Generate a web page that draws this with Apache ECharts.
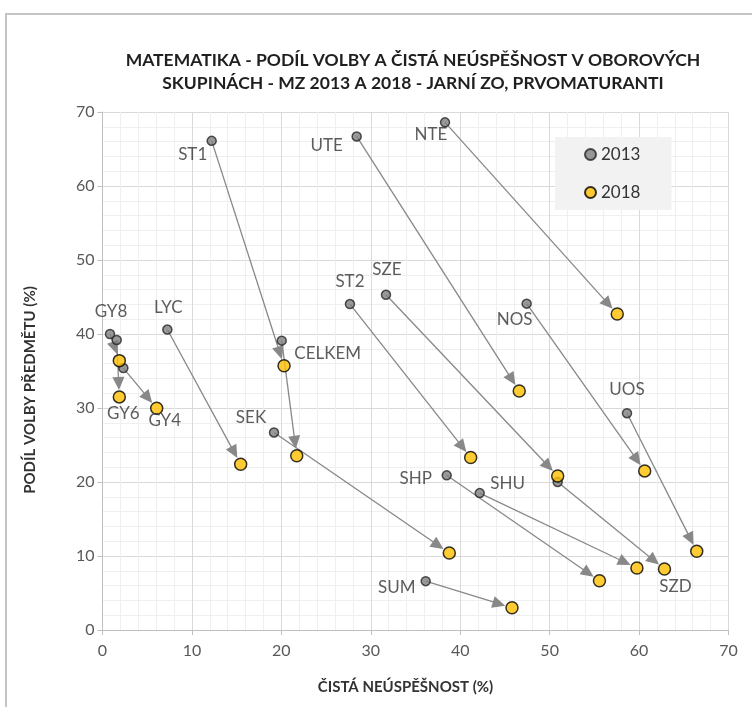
<!DOCTYPE html>
<html>
<head>
<meta charset="utf-8">
<script src="https://cdn.jsdelivr.net/npm/echarts@6/dist/echarts.min.js"></script>
<style>html,body{margin:0;padding:0;background:#fff}#c{width:752px;height:707px}</style>
</head>
<body>
<div id="c"></div>
<script>
// Group codes
const groups = ['GY8','GY6','GY4','LYC','SEK','CELKEM','ST1','UTE','NTE','ST2','SZE','SZD','NOS','UOS','SHU','SHP','SUM'];
// 2013: x = čistá neúspěšnost (%), y = podíl volby (%)
const x2013 = [0.84, 1.59, 2.33, 7.25, 19.18, 20.04, 12.21, 28.42, 38.3, 27.67, 31.7, 50.9, 47.43, 58.65, 42.18, 38.49, 36.14];
const y2013 = [40.0, 39.2, 35.4, 40.6, 26.7, 39.1, 66.1, 66.7, 68.6, 44.05, 45.3, 20.0, 44.1, 29.3, 18.5, 20.9, 6.6];
// 2018
const x2018 = [1.88, 1.88, 6.06, 15.45, 38.78, 21.72, 20.3, 46.6, 57.56, 41.17, 50.9, 62.84, 60.63, 66.45, 59.76, 55.57, 45.79];
const y2018 = [36.4, 31.5, 29.96, 22.4, 10.4, 23.55, 35.7, 32.3, 42.7, 23.3, 20.8, 8.24, 21.5, 10.65, 8.38, 6.65, 3.0];
const years = ['2013', '2018'];
const xTicks = [0, 10, 20, 30, 40, 50, 60, 70];
const yTicks = [0, 10, 20, 30, 40, 50, 60, 70];

// label placement (style config): which year's point carries the label, and offset in px
const labelSpec = {
  GY8: ['2013', [1, -22]], GY6: ['2018', [4, 17]], GY4: ['2018', [8, 12]],
  LYC: ['2013', [1, -22]], SEK: ['2013', [-23, -15]], CELKEM: ['2013', [46, 13]],
  ST1: ['2013', [-19, 14]], UTE: ['2013', [-30, 9]], NTE: ['2013', [-14, 12]],
  ST2: ['2013', [0, -23]], SZE: ['2013', [1, -25]], SZD: ['2018', [11, 17]],
  NOS: ['2013', [-12, 16]], UOS: ['2013', [0, -24]], SHU: ['2013', [28, -10]],
  SHP: ['2013', [-31, 3]], SUM: ['2013', [-29, 6]]
};

const FONT = 'Lato, "Open Sans", sans-serif';

function pointData(year, xs, ys) {
  return groups.map((g, i) => {
    const spec = labelSpec[g];
    const show = spec && spec[0] === year;
    return {
      name: g,
      value: [xs[i], ys[i]],
      label: show ? {
        show: true, formatter: g, position: 'inside', offset: spec[1],
        fontSize: 17, color: '#333333', fontFamily: FONT
      } : { show: false }
    };
  });
}

const chart = echarts.init(document.getElementById('c'), null, { renderer: 'canvas' });

const axisCommon = {
  type: 'value', min: 0, max: 70, interval: 10,
  axisLine: { show: true, lineStyle: { color: '#bfbfbf', width: 1 } },
  axisTick: { show: true, length: 5, lineStyle: { color: '#bfbfbf' } },
  splitLine: { show: true, lineStyle: { color: '#d9d9d9', width: 1 } },
  minorTick: { show: false, splitNumber: 5 },
  minorSplitLine: { show: true, lineStyle: { color: '#efefef', width: 1 } },
  nameLocation: 'middle'
};

const option = {
  backgroundColor: '#ffffff',
  animation: false,
  textStyle: { fontFamily: FONT },
  graphic: [{
    type: 'rect', shape: { x: 6, y: 14, width: 800, height: 800 },
    style: { fill: 'none', stroke: '#c4c4c4', lineWidth: 2 }, silent: true, z: -1
  }],
  title: {
    text: 'MATEMATIKA - PODÍL VOLBY A ČISTÁ NEÚSPĚŠNOST V OBOROVÝCH\nSKUPINÁCH - MZ 2013 A 2018 - JARNÍ ZO, PRVOMATURANTI',
    left: 408, top: 44, textAlign: 'center',
    textStyle: { fontSize: 17.5, fontWeight: 'bold', color: '#1f1f1f', lineHeight: 23, fontFamily: FONT }
  },
  legend: {
    data: years, orient: 'vertical', left: 555, top: 137,
    backgroundColor: '#F2F2F2', padding: [9, 31, 9, 29], itemGap: 21,
    itemWidth: 11, itemHeight: 11, icon: 'circle',
    textStyle: { fontSize: 17, color: '#333333', lineHeight: 16, fontFamily: FONT }
  },
  grid: { left: 102.5, right: 23.5, top: 112, bottom: 77 },
  xAxis: Object.assign({}, axisCommon, {
    name: 'ČISTÁ NEÚSPĚŠNOST (%)', nameGap: 50,
    nameTextStyle: { fontWeight: 'bold', fontSize: 15, color: '#333333', fontFamily: FONT, padding: [0, 20, 0, 0] },
    axisLabel: { fontSize: 16, color: '#595959', margin: 13, fontFamily: FONT,
      formatter: v => xTicks.includes(v) ? String(v) : '' }
  }),
  yAxis: Object.assign({}, axisCommon, {
    name: 'PODÍL VOLBY PŘEDMĚTU (%)', nameGap: 65,
    nameTextStyle: { fontWeight: 'bold', fontSize: 15, color: '#333333', fontFamily: FONT, padding: [0, 38, 0, 0] },
    axisLabel: { fontSize: 16, color: '#595959', margin: 8, fontFamily: FONT,
      formatter: v => yTicks.includes(v) ? String(v) : '' }
  }),
  series: [
    {
      type: 'custom', coordinateSystem: 'cartesian2d', silent: true, z: 1,
      data: groups.map((g, i) => [x2013[i], y2013[i], x2018[i], y2018[i]]),
      encode: { x: [0, 2], y: [1, 3] },
      renderItem: function (params, api) {
        const p1 = api.coord([api.value(0), api.value(1)]);
        const p2 = api.coord([api.value(2), api.value(3)]);
        const dx = p2[0] - p1[0], dy = p2[1] - p1[1];
        const L = Math.hypot(dx, dy) || 1;
        const ux = dx / L, uy = dy / L;
        const tip = [p2[0] - ux * 7, p2[1] - uy * 7];
        const headLen = 13, headW = 6;
        const base = [tip[0] - ux * headLen, tip[1] - uy * headLen];
        const l = [base[0] - uy * headW, base[1] + ux * headW];
        const r = [base[0] + uy * headW, base[1] - ux * headW];
        return {
          type: 'group', children: [
            { type: 'line', shape: { x1: p1[0], y1: p1[1], x2: base[0] + ux * 2, y2: base[1] + uy * 2 },
              style: { stroke: '#888888', lineWidth: 1.3 } },
            { type: 'polygon', shape: { points: [tip, l, r] }, style: { fill: '#888888' } }
          ]
        };
      }
    },
    {
      name: '2013', type: 'scatter', z: 3, symbol: 'circle', symbolSize: 9,
      itemStyle: { color: '#808080', borderColor: '#262626', borderWidth: 1.5 },
      data: pointData('2013', x2013, y2013)
    },
    {
      name: '2018', type: 'scatter', z: 4, symbol: 'circle', symbolSize: 12,
      itemStyle: { color: '#FFC000', borderColor: '#000000', borderWidth: 1.5 },
      data: pointData('2018', x2018, y2018)
    }
  ]
};
chart.setOption(option);
</script>
</body>
</html>
